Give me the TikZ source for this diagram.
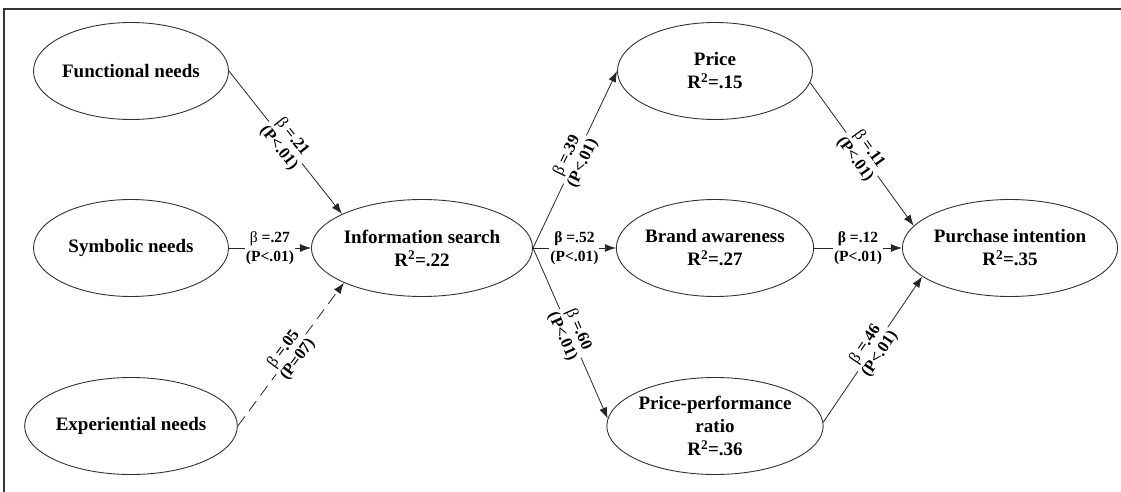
\documentclass[tikz,border=0pt]{standalone}
\usepackage{fontspec}
\setmainfont{Liberation Serif}
\usetikzlibrary{shapes.geometric,arrows.meta}
\begin{document}
\begin{tikzpicture}[x=1pt,y=-1pt,
 var/.style={ellipse,draw=black!80,line width=0.9pt,minimum width=195pt,minimum height=97pt,inner sep=0pt,align=center,font=\fontsize{19}{23}\selectfont\bfseries},
 arr/.style={draw=black!85,line width=0.8pt,-{Latex[length=11pt,width=8pt]}},
 lbl/.style={fill=white,inner sep=1pt,align=center,font=\fontsize{16.5}{17.5}\selectfont\bfseries},
 hlbl/.style={fill=white,inner sep=1pt,align=center,font=\fontsize{15.5}{19}\selectfont\bfseries},
 frame/.style={draw=black!80,line width=1.5pt},
]
\useasboundingbox (0,0) rectangle (1121,492);
\draw[frame] (1121,9) -- (4,9) -- (4,492);

\node[var] (fn) at (131,71) {Functional needs};
\node[var] (sn) at (131,248) {Symbolic needs};
\node[var] (en) at (131,426) {Experiential needs};
\node[var] (is) at (422,248) {Information search\\R\textsuperscript{2}=.22};
\node[var] (pr) at (715,71) {Price\\R\textsuperscript{2}=.15};
\node[var] (ba) at (715,248) {Brand awareness\\R\textsuperscript{2}=.27};
\node[var] (pp) at (715,426) {Price-performance\\ratio\\R\textsuperscript{2}=.36};
\node[var] (pi) at (1010,248) {Purchase intention\\R\textsuperscript{2}=.35};

\draw[arr] (fn.east) -- node[lbl,sloped]{\textmd{β} =.21\\(P<.01)} (is.157);
\draw[arr] (sn.east) -- node[hlbl]{\textmd{β} =.27\\(P<.01)} (is.west);
\draw[arr,dash pattern=on 12pt off 7pt] (en.east) -- node[lbl,sloped]{\textmd{β} =.05\\(P=07)} (is.204);

\draw[arr] (is.east) -- node[lbl,sloped]{\textmd{β} =.39\\(P<.01)} (pr.west);
\draw[arr] (is.east) -- node[hlbl]{β =.52\\(P<.01)} (ba.west);
\draw[arr] (is.east) -- node[lbl,sloped]{\textmd{β} =.60\\(P<.01)} (pp.176);

\draw[arr] (pr.-7) -- node[lbl,sloped]{\textmd{β} =.11\\(P<.01)} (pi.167);
\draw[arr] (ba.east) -- node[hlbl]{β =.12\\(P<.01)} (pi.west);
\draw[arr] (pp.2) -- node[lbl,sloped]{\textmd{β} =.46\\(P<.01)} (pi.198);
\end{tikzpicture}
\end{document}
